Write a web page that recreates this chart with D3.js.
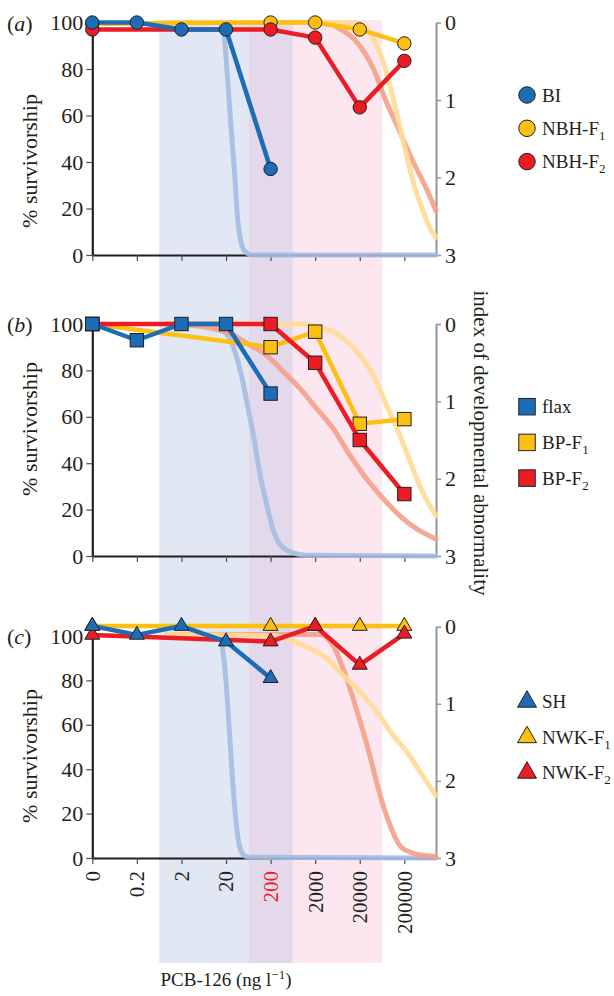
<!DOCTYPE html>
<html>
<head>
<meta charset="utf-8">
<script src="https://cdn.jsdelivr.net/npm/d3@7"></script>
<style>
  body { margin: 0; background: #fff; }
  svg text { font-family: "Liberation Serif", "Times New Roman", serif; fill: #231f20; }
</style>
</head>
<body>
<div id="grafico"></div>
<script>
// concentraciones de PCB-126 (ng/l), eje x categórico en escala log
const concentraciones = ["0", "0.2", "2", "20", "200", "2000", "20000", "200000"];
const concRoja = "200";

// % supervivencia, panel (a)
const bi     = [100, 100, 97, 97, 37, null, null, null];
const nbhF1  = [99.5, null, null, null, 100, 100, 97, 91];
const nbhF2  = [97, null, null, null, 97, 93.5, 63.5, 83.5];
// panel (b)
const flax   = [100, 93, 100, 100, 70, null, null, null];
const bpF1   = [100, null, null, null, 90, 96.7, 57, 59];
const bpF2   = [100, null, null, null, 100, 83.3, 50, 26.7];
// panel (c)
const sh     = [104.5, 100.5, 104.5, 97.5, 81, null, null, null];
const nwkF1  = [104.5, null, null, null, 104.5, 104.5, 104.5, 104.5];
const nwkF2  = [100.5, null, null, null, 97.5, 104.5, 87, 101];

// índice de anormalidad (eje derecho), [posición en eje x, índice]
const anormBlueA   = [[1.67,0],[2.85,0],[2.94,0.1],[3.04,0.77],[3.11,1.33],[3.19,1.93],[3.26,2.53],[3.34,2.84],[3.45,2.97],[3.6,3],[7.71,3]];
const anormSalmonA = [[1.67,0],[5.25,0],[5.55,0.08],[5.93,0.25],[6.3,0.59],[6.6,1.03],[6.9,1.41],[7.2,1.8],[7.5,2.15],[7.71,2.43]];
const anormYellowA = [[1.67,0],[5.9,0],[6.15,0.08],[6.3,0.21],[6.53,0.51],[6.75,0.98],[6.98,1.54],[7.2,2.06],[7.43,2.45],[7.58,2.66],[7.71,2.77]];

const anormBlueB   = [[1.67,0],[2.7,0],[2.85,0.05],[3.075,0.18],[3.225,0.4],[3.375,0.74],[3.525,1.18],[3.64,1.52],[3.75,1.91],[3.9,2.3],[4.05,2.65],[4.24,2.87],[4.5,2.96],[4.8,2.99],[7.71,3]];
const anormSalmonB = [[1.67,0],[2.4,0.03],[2.775,0.07],[3.15,0.14],[3.525,0.27],[3.9,0.4],[4.275,0.61],[4.65,0.83],[5.03,1.09],[5.4,1.35],[5.78,1.7],[6.15,2.0],[6.53,2.26],[6.9,2.48],[7.28,2.65],[7.71,2.78]];
const anormYellowB = [[1.67,0],[4.65,0],[5.03,0.03],[5.4,0.1],[5.93,0.35],[6.3,0.66],[6.6,1.05],[6.9,1.44],[7.13,1.78],[7.35,2.1],[7.71,2.48]];

const anormBlueC   = [[1.67,0.1],[2.85,0.1],[2.91,0.24],[3.0,0.71],[3.075,1.36],[3.15,2.01],[3.225,2.53],[3.3,2.84],[3.41,2.97],[3.525,2.99],[7.71,3]];
const anormSalmonC = [[1.67,0.1],[5.1,0.1],[5.4,0.24],[5.625,0.54],[5.85,0.93],[6.075,1.36],[6.225,1.67],[6.375,2.01],[6.525,2.32],[6.71,2.62],[6.9,2.84],[7.2,2.94],[7.5,2.97],[7.71,2.98]];
const anormYellowC = [[1.67,0.1],[4.125,0.12],[4.5,0.19],[4.875,0.28],[5.25,0.41],[5.625,0.63],[6.0,0.84],[6.375,1.1],[6.75,1.41],[7.05,1.62],[7.35,1.88],[7.71,2.19]];

// rangos de concentración sombreados
const sombras = [
    { desde: 1.5, hasta: 3.5, color: "#e1e7f3" },
    { desde: 3.5, hasta: 4.5, color: "#e4d9ea" },
    { desde: 4.5, hasta: 6.5, color: "#fce7f0" }
];

const AZUL = "#1c6db5", AMARILLO = "#fdbf12", ROJO = "#ec1c24";
const AZUL_P = "#a5bce2", SALMON_P = "#f4a08a", AMARILLO_P = "#fedc95";

const paneles = [
    { letra: "a", top: 22.5, bottom: 255, rTop: 22.5, tituloY: 161, legendaY: 95, paso: 33.3, forma: "circle",
      series: [
        { nombre: "NBH-F", sub: "1", color: AMARILLO, valores: nbhF1 },
        { nombre: "NBH-F", sub: "2", color: ROJO, valores: nbhF2 },
        { nombre: "BI", sub: "", color: AZUL, valores: bi }
      ],
      palidas: [[AZUL_P, anormBlueA], [SALMON_P, anormSalmonA], [AMARILLO_P, anormYellowA]] },
    { letra: "b", top: 324, bottom: 556, rTop: 324, tituloY: 429, legendaY: 406.7, paso: 35.7, forma: "square",
      series: [
        { nombre: "BP-F", sub: "1", color: AMARILLO, valores: bpF1 },
        { nombre: "BP-F", sub: "2", color: ROJO, valores: bpF2 },
        { nombre: "flax", sub: "", color: AZUL, valores: flax }
      ],
      palidas: [[AZUL_P, anormBlueB], [SALMON_P, anormSalmonB], [AMARILLO_P, anormYellowB]] },
    { letra: "c", top: 636, bottom: 858, rTop: 626.7, tituloY: 756, legendaY: 701.7, paso: 35.5, forma: "triangle",
      series: [
        { nombre: "NWK-F", sub: "1", color: AMARILLO, valores: nwkF1 },
        { nombre: "NWK-F", sub: "2", color: ROJO, valores: nwkF2 },
        { nombre: "SH", sub: "", color: AZUL, valores: sh }
      ],
      palidas: [[AZUL_P, anormBlueC], [SALMON_P, anormSalmonC], [AMARILLO_P, anormYellowC]] }
];

const svg = d3.select("#grafico").append("svg")
    .attr("width", 614).attr("height", 996);

const x = d3.scaleLinear().domain([0, 7.71]).range([92.3, 436]);

// sombras de fondo
svg.selectAll("rect.sombra")
    .data(sombras)
    .enter()
    .append("rect")
    .attr("x", d => x(d.desde))
    .attr("width", d => x(d.hasta) - x(d.desde))
    .attr("y", 20)
    .attr("height", 943)
    .attr("fill", d => d.color);

function marcador(g, forma, cx, cy, tam, color) {
    if (forma === "circle") {
        g.append("circle").attr("cx", cx).attr("cy", cy).attr("r", tam / 2)
            .attr("fill", color).attr("stroke", "#231f20").attr("stroke-width", 1);
    } else if (forma === "square") {
        g.append("rect").attr("x", cx - tam / 2).attr("y", cy - tam / 2)
            .attr("width", tam).attr("height", tam)
            .attr("fill", color).attr("stroke", "#231f20").attr("stroke-width", 1);
    } else {
        const area = Math.sqrt(3) / 4 * tam * tam;
        g.append("path")
            .attr("d", d3.symbol(d3.symbolTriangle, area)())
            .attr("transform", `translate(${cx},${cy})`)
            .attr("fill", color).attr("stroke", "#231f20").attr("stroke-width", 1);
    }
}

paneles.forEach(p => {
    const g = svg.append("g");
    const y = d3.scaleLinear().domain([0, 100]).range([p.bottom, p.top]);
    const yR = d3.scaleLinear().domain([0, 3]).range([p.rTop, p.bottom]);

    // eje izquierdo
    const ejeY = g.append("g")
        .attr("transform", `translate(${x(0)},0)`)
        .call(d3.axisLeft(y).tickValues([0, 20, 40, 60, 80, 100]).tickSize(6).tickSizeOuter(0).tickPadding(3));
    ejeY.select(".domain").attr("stroke", "#231f20").attr("stroke-width", 2.2);
    ejeY.selectAll(".tick line").attr("stroke", "#4d4d4f").attr("stroke-width", 1.2);
    ejeY.selectAll(".tick text").style("font-size", "22px").attr("fill", "#231f20")
        .style("font-family", "'Liberation Serif', serif");

    // eje derecho
    const ejeR = g.append("g")
        .attr("transform", `translate(${x(7.71)},0)`)
        .call(d3.axisRight(yR).tickValues([0, 1, 2, 3]).tickFormat(d3.format("d"))
            .tickSize(5).tickSizeOuter(0).tickPadding(4));
    ejeR.select(".domain").attr("stroke", "#939598").attr("stroke-width", 2);
    ejeR.selectAll(".tick line").attr("stroke", "#939598").attr("stroke-width", 1.5);
    ejeR.selectAll(".tick text").style("font-size", "22px").attr("fill", "#231f20")
        .style("font-family", "'Liberation Serif', serif");

    // eje inferior
    const ejeX = g.append("g")
        .attr("transform", `translate(0,${p.bottom})`)
        .call(d3.axisBottom(x).tickValues(d3.range(concentraciones.length)).tickSize(6).tickSizeOuter(0).tickFormat(""));
    ejeX.select(".domain").attr("stroke", "#231f20").attr("stroke-width", 2.2);
    ejeX.selectAll(".tick line").attr("stroke", "#4d4d4f").attr("stroke-width", 1.2);

    // curvas de anormalidad (pálidas)
    const lineaP = d3.line().x(d => x(d[0])).y(d => yR(d[1])).curve(d3.curveMonotoneX);
    p.palidas.forEach(([color, datos]) => {
        g.append("path")
            .attr("d", lineaP(datos))
            .attr("fill", "none")
            .attr("stroke", color)
            .attr("stroke-width", 5)
            .attr("stroke-linecap", "round")
            .attr("stroke-linejoin", "round")
            .attr("opacity", 0.9);
    });

    // series de supervivencia
    const linea = d3.line().x(d => x(d.i)).y(d => y(d.v));
    const tamMarca = p.forma === "triangle" ? 15 : 13.4;
    p.series.forEach(s => {
        const pts = s.valores.map((v, i) => ({ i, v })).filter(d => d.v != null);
        g.append("path")
            .attr("d", linea(pts))
            .attr("fill", "none")
            .attr("stroke", s.color)
            .attr("stroke-width", 4.5)
            .attr("stroke-linejoin", "round");
        pts.forEach(d => marcador(g, p.forma, x(d.i), y(d.v), tamMarca, s.color));
    });

    // leyenda (orden: azul, amarillo, rojo)
    const ordenLeyenda = [p.series[2], p.series[0], p.series[1]];
    ordenLeyenda.forEach((s, k) => {
        const ly = p.legendaY + k * p.paso;
        marcador(g, p.forma, 527, ly, p.forma === "triangle" ? 19 : 16.5, s.color);
        const t = g.append("text").attr("x", 542).attr("y", ly + 6.5).style("font-size", "19px");
        t.append("tspan").text(s.nombre);
        if (s.sub) t.append("tspan").attr("dy", 5).style("font-size", "13px").text(s.sub);
    });

    // etiqueta de panel
    const et = g.append("text").attr("x", 7).attr("y", p.top + 8).style("font-size", "22px");
    et.append("tspan").text("(");
    et.append("tspan").style("font-style", "italic").text(p.letra);
    et.append("tspan").text(")");

    // título eje y
    g.append("text")
        .attr("transform", `translate(37,${p.tituloY}) rotate(-90)`)
        .attr("text-anchor", "middle")
        .style("font-size", "22px")
        .text("% survivorship");
});

// etiquetas del eje x (panel c)
svg.selectAll("text.conc")
    .data(concentraciones)
    .enter()
    .append("text")
    .attr("class", "conc")
    .attr("transform", (d, i) => `translate(${x(i)},871) rotate(-90)`)
    .attr("text-anchor", "end")
    .attr("dy", "0.35em")
    .style("font-size", "21px")
    .style("fill", d => d === concRoja ? "#ec1c24" : "#231f20")
    .text(d => d);

// título eje x
const tx = svg.append("text")
    .attr("x", 226).attr("y", 986)
    .attr("text-anchor", "middle")
    .style("font-size", "19px");
tx.append("tspan").text("PCB-126 (ng l");
tx.append("tspan").attr("dy", -7).style("font-size", "13px").text("\u22121");
tx.append("tspan").attr("dy", 7).text(")");

// título eje derecho
svg.append("text")
    .attr("transform", "translate(474,443) rotate(90)")
    .attr("text-anchor", "middle")
    .style("font-size", "21px")
    .text("index of developmental abnormality");
</script>
</body>
</html>
